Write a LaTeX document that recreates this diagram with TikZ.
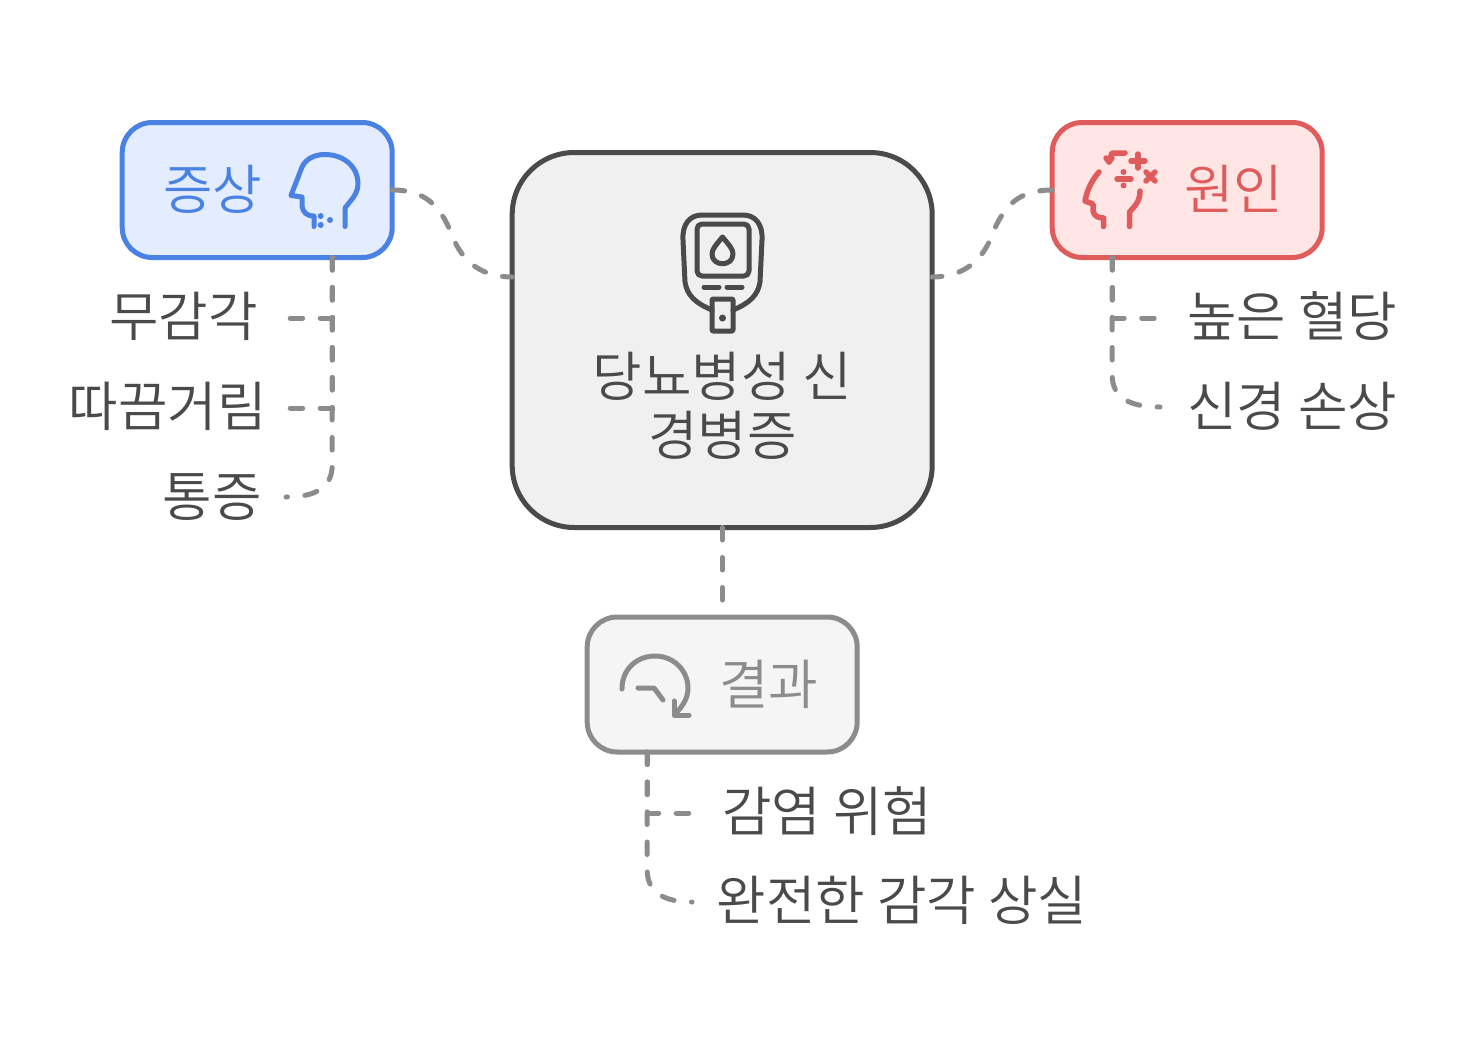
\documentclass[tikz,border=0pt]{standalone}
\usepackage{fontspec}
\setmainfont{Noto Sans CJK KR DemiLight}
\begin{document}
\begin{tikzpicture}[x=1pt,y=-1pt,
  boxs/.style={draw,line width=5pt,rounded corners=30pt,inner sep=0pt,outer sep=0pt,minimum width=270pt,minimum height=135pt},
  conn/.style={draw=connc,line width=5pt,line cap=round,line join=miter,dash pattern=on 12.5pt off 17.5pt},
  lbl/.style={font=\fontsize{53.8}{53.8}\selectfont,text=txtc,inner sep=0pt},
  ic/.style={line width=5pt,line cap=round,line join=round}]
\definecolor{connc}{HTML}{8C8C8C}
\definecolor{txtc}{HTML}{4A4A4A}
\definecolor{bl}{HTML}{4A82E4}
\definecolor{blf}{HTML}{E3EDFF}
\definecolor{rd}{HTML}{E05C5C}
\definecolor{rdf}{HTML}{FFE6E5}
\definecolor{gy}{HTML}{8C8C8C}
\definecolor{gyf}{HTML}{F5F5F5}
\definecolor{cf}{HTML}{F0F0F0}
\useasboundingbox (0,0) rectangle (1475,1055);
\fill[white] (0,0) rectangle (1475,1055);
% boxes
\node[boxs,draw=bl,fill=blf] (sym) at (257.2,190) {};
\node[boxs,draw=rd,fill=rdf] (cau) at (1187.2,190) {};
\node[boxs,draw=gy,fill=gyf] (res) at (722.2,684.5) {};
\node[boxs,draw=txtc,fill=cf,rounded corners=62pt,minimum width=420pt,minimum height=375pt] (cen) at (722.2,340) {};
% box labels
\node[lbl,text=bl,anchor=base] (t1) at (212.5,209) {증상};
\node[lbl,text=rd,anchor=base] (t2) at (1233.5,209) {원인};
\node[lbl,text=gy,anchor=base] (t3) at (768.5,704) {결과};
\node[lbl,anchor=base] (t4) at (722.5,396) {당뇨병성 신};
\node[lbl,anchor=base] (t5) at (722.5,455.5) {경병증};
% side labels
\node[lbl,anchor=base east] (l1) at (258,336.5) {무감각};
\node[lbl,anchor=base east] (l2) at (267,426.5) {따끔거림};
\node[lbl,anchor=base east] (l3) at (262,516) {통증};
\node[lbl,anchor=base west] (r1) at (1187,336.5) {높은 혈당};
\node[lbl,anchor=base west] (r2) at (1187,426) {신경 손상};
\node[lbl,anchor=base west] (d1) at (722,831) {감염 위험};
\node[lbl,anchor=base west] (d2) at (716.5,920.5) {완전한 감각 상실};
% connector anchor points
\coordinate (s0) at ([xshift=75pt]sym.south);
\coordinate (c0) at ([xshift=-75pt]cau.south);
\coordinate (r0) at ([xshift=-75pt]res.south);
\coordinate (cl) at ([yshift=63pt]cen.west);
\coordinate (cr) at ([yshift=63pt]cen.east);
\coordinate (a1) at (288,318);
\coordinate (a2) at (288,408);
\coordinate (a3) at (286,497);
\coordinate (b1) at (1160,318);
\coordinate (b2) at (1160,407);
\coordinate (c1) at (692,813);
\coordinate (c2) at (692,902);
% connectors
\draw[conn] (sym.east) .. controls (425,190) and (440,205) .. (452,235) .. controls (462,262) and (482,277) .. (cl);
\draw[conn] (cau.west) .. controls (1019,190) and (1004,205) .. (992,235) .. controls (982,262) and (962,277) .. (cr);
\draw[conn] (cen.south) -- ([yshift=17pt]res.north);
\draw[conn] (s0) -- (s0 |- a1) -- (a1);
\draw[conn] (s0) -- (s0 |- a2) -- (a2);
\draw[conn] (s0) -- (s0 |- 0,465) .. controls (332.2,488) and (315,497) .. (a3);
\draw[conn] (c0) -- (c0 |- b1) -- (b1);
\draw[conn] (c0) -- (c0 |- 0,375) .. controls (1112.2,398) and (1130,407) .. (b2);
\draw[conn] (r0) -- (r0 |- c1) -- (c1);
\draw[conn] (r0) -- (r0 |- 0,870) .. controls (647.2,893) and (665,902) .. (c2);
% head icon
\begin{scope}[ic,draw=bl,fill=bl]
\draw (345,226.5) -- (345,208) -- (350.5,201) .. controls (355,196) and (358,190) .. (358,184) .. controls (358,166) and (343,154.5) .. (325,154.5) .. controls (314,154.5) and (306,159) .. (302,167) -- (291,195.5) -- (302,197) -- (302,206) .. controls (303,212) and (306,216) .. (314,216) -- (314,226.5);
\fill (320.7,216) circle (3) (320.7,225) circle (3) (330,220) circle (3);
\end{scope}
% meter icon
\begin{scope}[ic,draw=txtc,fill=txtc]
\draw (712,310) .. controls (695,303) and (687,295) .. (685,282) -- (683,240) .. controls (682,224) and (690,215) .. (702,215) -- (743,215) .. controls (755,215) and (763,224) .. (762,240) -- (760,282) .. controls (758,295) and (750,303) .. (733,310);
\draw[rounded corners=5pt] (697,224) rectangle (749,276);
\draw (722.5,237) .. controls (716,245) and (712,249) .. (712,254) .. controls (712,267) and (733,267) .. (733,254) .. controls (733,249) and (729,245) .. (722.5,237) -- cycle;
\draw (704,287) -- (719,287) (727,287) -- (742,287);
\draw[rounded corners=1pt] (712,299) rectangle (733,331);
\fill (722.5,318) circle (3.5);
\end{scope}
% brain icon
\begin{scope}[ic,line width=5.5pt,draw=rd,fill=rd]
\draw (1099,172) .. controls (1092,180) and (1087,190) .. (1085,201) -- (1093,204) -- (1093,211) .. controls (1094,216) and (1098,218) .. (1103.5,218) -- (1103.5,226.5);
\draw (1140,191) .. controls (1140,202) and (1134,207) .. (1129.5,212) -- (1129.5,226.5);
\draw (1125,153) -- (1112,153) -- (1109,162);
\draw (1106,158) -- (1109,162) -- (1112,158);
\draw (1131,161) -- (1145,161) (1138,154) -- (1138,168);
\draw (1146,172) -- (1155,181) (1155,172) -- (1146,181);
\draw (1117,179) -- (1131,179);
\fill (1123.5,172) circle (3) (1123.5,185.5) circle (3);
\end{scope}
% arrow icon
\begin{scope}[ic,draw=gy]
\draw (622,689) .. controls (622,668) and (638,656) .. (655,656) .. controls (674,656) and (688,671) .. (688,688) .. controls (688,698) and (683,706) .. (675,714);
\draw (674,701) -- (674,715) -- (689,715);
\draw (638,688) -- (654,688) -- (663,700);
\end{scope}
\end{tikzpicture}
\end{document}
